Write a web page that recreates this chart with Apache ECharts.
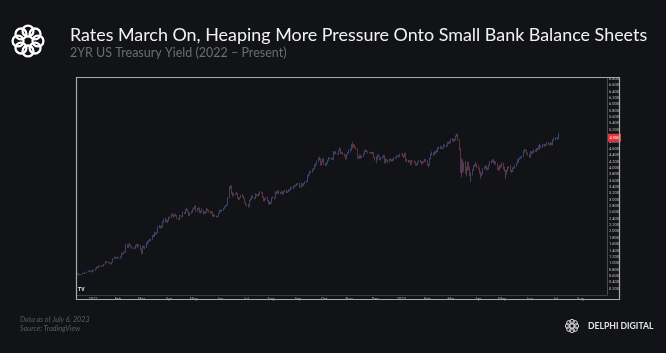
<!DOCTYPE html>
<html>
<head>
<meta charset="utf-8">
<script src="https://cdn.jsdelivr.net/npm/echarts@6/dist/echarts.min.js"></script>
<style>
html,body{margin:0;padding:0;background:#121316;}
#c{width:666px;height:353px;}
</style>
</head>
<body>
<div id="c"></div>
<script>
// ---- Data: 2YR US Treasury yield, daily (weekdays) 2021-12-15 .. 2023-07-06 ----
const firstDay = '2021-12-15';
const axisEndDay = '2023-08-31';
const monthNames = ['Jan','Feb','Mar','Apr','May','Jun','Jul','Aug','Sep','Oct','Nov','Dec'];
const yTickStep = 0.2;

const closeV = [
// Dec 2021
0.67,0.64,0.64,0.65,0.68,0.67,0.70,0.70,0.73,0.76,0.76,0.73,0.73,
// Jan 2022
0.78,0.77,0.83,0.88,0.87,0.90,0.90,0.92,0.91,0.97,0.97,1.04,1.04,1.02,1.01,0.99,1.03,1.15,1.19,1.17,1.18,
// Feb
1.18,1.15,1.19,1.31,1.29,1.35,1.34,1.58,1.50,1.58,1.58,1.52,1.47,1.47,1.47,1.56,1.58,1.57,1.57,1.44,
// Mar
1.30,1.50,1.52,1.50,1.62,1.68,1.71,1.72,1.75,1.87,1.85,1.94,1.94,1.97,2.14,2.17,2.12,2.14,2.30,2.33,2.35,2.31,2.33,
// Apr
2.44,2.43,2.54,2.50,2.47,2.53,2.51,2.40,2.37,2.50,2.50,2.46,2.60,2.56,2.68,2.72,2.61,2.50,2.58,2.61,2.70,
// May
2.73,2.78,2.64,2.71,2.73,2.61,2.63,2.66,2.57,2.61,2.59,2.71,2.67,2.63,2.59,2.62,2.49,2.50,2.48,2.47,2.47,2.56,
// Jun
2.66,2.64,2.66,2.73,2.79,2.81,2.83,3.06,3.40,3.43,3.20,3.18,3.18,3.18,3.20,3.05,3.01,3.06,3.13,3.10,3.04,2.92,
// Jul
2.83,2.83,2.79,2.98,3.03,3.12,3.06,3.05,3.15,3.14,3.13,3.16,3.24,3.23,3.09,2.97,3.02,3.04,2.98,2.87,2.88,
// Aug
2.90,3.07,3.07,3.05,3.24,3.21,3.27,3.20,3.22,3.25,3.18,3.25,3.29,3.23,3.25,3.30,3.30,3.39,3.37,3.40,3.45,3.45,3.49,
// Sep
3.51,3.40,3.40,3.50,3.45,3.50,3.56,3.57,3.75,3.79,3.87,3.87,3.95,3.97,4.05,4.12,4.20,4.29,4.28,4.10,4.19,4.28,
// Oct
4.10,4.10,4.15,4.24,4.30,4.30,4.30,4.29,4.47,4.50,4.45,4.44,4.55,4.60,4.48,4.48,4.43,4.38,4.29,4.41,4.48,
// Nov
4.54,4.56,4.71,4.66,4.72,4.64,4.60,4.32,4.32,4.39,4.35,4.36,4.45,4.53,4.55,4.51,4.49,4.49,4.47,4.46,4.48,4.33,
// Dec
4.25,4.28,4.40,4.38,4.26,4.30,4.34,4.38,4.22,4.22,4.24,4.18,4.26,4.26,4.22,4.25,4.31,4.31,4.38,4.38,4.36,4.43,
// Jan 2023
4.43,4.37,4.36,4.45,4.24,4.19,4.22,4.21,4.12,4.22,4.22,4.18,4.08,4.12,4.18,4.23,4.20,4.14,4.19,4.20,4.26,4.21,
// Feb
4.09,4.09,4.29,4.43,4.46,4.41,4.48,4.49,4.52,4.62,4.63,4.65,4.62,4.62,4.72,4.69,4.69,4.79,4.78,4.81,
// Mar
4.89,4.89,4.86,4.89,5.01,5.06,4.90,4.60,3.98,4.24,3.91,4.14,3.85,3.92,4.17,3.95,3.77,3.77,3.94,4.06,4.09,4.11,4.06,
// Apr
3.97,3.84,3.79,3.82,3.97,4.02,4.03,3.96,3.97,4.09,4.18,4.21,4.25,4.18,4.18,4.12,3.96,3.95,4.06,4.04,
// May
4.15,3.97,3.92,3.80,3.91,4.01,4.03,3.90,3.90,3.99,4.00,4.07,4.15,4.25,4.28,4.31,4.33,4.36,4.51,4.55,4.55,4.46,4.41,
// Jun
4.34,4.50,4.46,4.50,4.55,4.52,4.60,4.58,4.69,4.69,4.65,4.72,4.72,4.70,4.72,4.79,4.76,4.74,4.78,4.72,4.88,4.90,
// Jul
4.94,4.94,4.94,4.95
];

const openV = [
0.65,0.67,0.64,0.64,0.65,0.68,0.67,0.70,0.70,0.73,0.76,0.76,0.73,
0.73,0.78,0.77,0.83,0.88,0.87,0.90,0.90,0.92,0.91,0.97,0.97,1.04,1.04,1.02,1.01,0.99,1.03,1.15,1.19,1.17,
1.18,1.18,1.15,1.19,1.31,1.29,1.35,1.34,1.58,1.50,1.58,1.58,1.52,1.47,1.47,1.47,1.56,1.58,1.57,1.57,
1.44,1.30,1.50,1.52,1.50,1.62,1.68,1.71,1.72,1.75,1.87,1.85,1.94,1.94,1.97,2.14,2.17,2.12,2.14,2.30,2.33,2.35,2.31,
2.33,2.44,2.43,2.54,2.50,2.47,2.53,2.51,2.40,2.37,2.50,2.50,2.46,2.60,2.56,2.68,2.72,2.61,2.50,2.58,2.61,
2.70,2.73,2.78,2.64,2.71,2.73,2.61,2.63,2.66,2.57,2.61,2.59,2.71,2.67,2.63,2.59,2.62,2.49,2.50,2.48,2.47,2.47,
2.56,2.66,2.64,2.66,2.73,2.79,2.81,2.83,3.06,3.40,3.43,3.20,3.18,3.18,3.18,3.20,3.05,3.01,3.06,3.13,3.10,3.04,
2.92,2.83,2.83,2.79,2.98,3.03,3.12,3.06,3.05,3.15,3.14,3.13,3.16,3.24,3.23,3.09,2.97,3.02,3.04,2.98,2.87,
2.88,2.90,3.07,3.07,3.05,3.24,3.21,3.27,3.20,3.22,3.25,3.18,3.25,3.29,3.23,3.25,3.30,3.30,3.39,3.37,3.40,3.45,3.45,
3.49,3.51,3.40,3.40,3.50,3.45,3.50,3.56,3.57,3.75,3.79,3.87,3.87,3.95,3.97,4.05,4.12,4.20,4.29,4.28,4.10,4.19,
4.28,4.10,4.10,4.15,4.24,4.30,4.30,4.30,4.29,4.47,4.50,4.45,4.44,4.55,4.60,4.48,4.48,4.43,4.38,4.29,4.41,
4.48,4.54,4.56,4.71,4.66,4.72,4.64,4.60,4.32,4.32,4.39,4.35,4.36,4.45,4.53,4.55,4.51,4.49,4.49,4.47,4.46,4.48,
4.33,4.25,4.28,4.40,4.38,4.26,4.30,4.34,4.38,4.22,4.22,4.24,4.18,4.26,4.26,4.22,4.25,4.31,4.31,4.38,4.38,4.36,
4.43,4.43,4.37,4.36,4.45,4.24,4.19,4.22,4.21,4.12,4.22,4.22,4.18,4.08,4.12,4.18,4.23,4.20,4.14,4.19,4.20,4.26,
4.21,4.09,4.09,4.29,4.43,4.46,4.41,4.48,4.49,4.52,4.62,4.63,4.65,4.62,4.62,4.72,4.69,4.69,4.79,4.78,
4.81,4.89,4.89,4.86,4.89,5.01,5.06,4.90,4.60,3.98,4.24,3.91,4.14,3.85,3.92,4.17,3.95,3.77,3.77,3.94,4.06,4.09,4.11,
4.06,3.97,3.84,3.79,3.82,3.97,4.02,4.03,3.96,3.97,4.09,4.18,4.21,4.25,4.18,4.18,4.12,3.96,3.95,4.06,
4.04,4.15,3.97,3.92,3.80,3.91,4.01,4.03,3.90,3.90,3.99,4.00,4.07,4.15,4.25,4.28,4.31,4.33,4.36,4.51,4.55,4.55,4.46,
4.41,4.34,4.50,4.46,4.50,4.55,4.52,4.60,4.58,4.69,4.69,4.65,4.72,4.72,4.70,4.72,4.79,4.76,4.74,4.78,4.72,4.88,
4.90,4.94,4.94,4.94
];

const highV = [
0.69,0.68,0.66,0.66,0.69,0.69,0.71,0.71,0.74,0.77,0.78,0.77,0.75,
0.79,0.80,0.84,0.89,0.90,0.92,0.93,0.94,0.93,0.98,0.98,1.06,1.07,1.05,1.04,1.02,1.04,1.16,1.21,1.21,1.20,
1.20,1.19,1.21,1.33,1.32,1.37,1.37,1.61,1.60,1.60,1.64,1.59,1.54,1.50,1.49,1.58,1.60,1.61,1.59,1.58,
1.46,1.53,1.56,1.55,1.65,1.70,1.73,1.76,1.77,1.89,1.90,1.99,1.96,1.99,2.17,2.20,2.18,2.18,2.32,2.40,2.43,2.38,2.36,
2.46,2.47,2.56,2.58,2.52,2.55,2.56,2.52,2.42,2.52,2.51,2.50,2.63,2.61,2.70,2.75,2.71,2.63,2.60,2.64,2.72,
2.76,2.80,2.83,2.74,2.76,2.75,2.65,2.72,2.67,2.63,2.63,2.73,2.72,2.68,2.64,2.64,2.63,2.54,2.53,2.50,2.49,2.58,
2.68,2.69,2.69,2.75,2.80,2.83,2.85,3.08,3.42,3.45,3.46,3.24,3.21,3.20,3.24,3.21,3.07,3.08,3.15,3.19,3.12,3.06,
2.93,2.85,2.86,3.00,3.05,3.14,3.13,3.08,3.20,3.18,3.16,3.20,3.26,3.27,3.24,3.11,3.04,3.08,3.09,2.99,2.95,
2.92,3.08,3.10,3.09,3.26,3.26,3.29,3.30,3.24,3.27,3.26,3.27,3.31,3.31,3.27,3.32,3.33,3.41,3.40,3.43,3.47,3.47,3.51,
3.53,3.54,3.42,3.53,3.52,3.52,3.58,3.60,3.79,3.81,3.91,3.90,3.97,3.99,4.11,4.14,4.23,4.33,4.36,4.30,4.21,4.31,
4.30,4.15,4.18,4.26,4.34,4.33,4.33,4.32,4.53,4.52,4.52,4.47,4.57,4.64,4.62,4.51,4.49,4.45,4.40,4.43,4.50,
4.57,4.61,4.75,4.82,4.74,4.74,4.66,4.62,4.36,4.42,4.42,4.38,4.47,4.56,4.58,4.56,4.53,4.50,4.51,4.50,4.50,4.50,
4.35,4.37,4.42,4.43,4.39,4.33,4.37,4.41,4.40,4.30,4.27,4.27,4.29,4.29,4.27,4.28,4.34,4.33,4.40,4.40,4.40,4.45,
4.44,4.48,4.41,4.47,4.48,4.28,4.25,4.24,4.24,4.25,4.23,4.24,4.20,4.14,4.19,4.25,4.25,4.22,4.21,4.22,4.28,4.28,
4.24,4.13,4.31,4.45,4.52,4.49,4.52,4.53,4.57,4.65,4.67,4.70,4.67,4.64,4.74,4.74,4.72,4.82,4.83,4.83,
4.92,4.94,4.92,4.91,5.02,5.08,5.07,4.91,4.62,4.30,4.27,4.18,4.22,4.02,4.19,4.18,4.04,3.86,3.96,4.08,4.12,4.18,4.14,
4.08,4.01,3.89,3.85,3.99,4.05,4.07,4.08,4.01,4.11,4.21,4.23,4.27,4.27,4.22,4.20,4.14,4.03,4.09,4.10,
4.17,4.16,4.04,3.93,3.95,4.03,4.05,4.08,3.94,4.01,4.03,4.09,4.17,4.27,4.30,4.33,4.36,4.38,4.54,4.60,4.57,4.57,4.48,
4.43,4.53,4.52,4.53,4.59,4.58,4.62,4.62,4.71,4.76,4.72,4.74,4.74,4.75,4.75,4.81,4.81,4.78,4.81,4.80,4.90,4.95,
4.96,4.95,4.97,5.11
];

const lowV = [
0.64,0.63,0.62,0.62,0.64,0.66,0.66,0.69,0.69,0.72,0.74,0.72,0.71,
0.72,0.75,0.76,0.81,0.85,0.86,0.88,0.88,0.89,0.90,0.96,0.96,1.01,1.00,0.99,0.95,0.98,1.02,1.13,1.15,1.15,
1.15,1.13,1.14,1.18,1.27,1.28,1.32,1.33,1.48,1.48,1.55,1.50,1.45,1.44,1.45,1.46,1.53,1.47,1.53,1.41,
1.28,1.29,1.47,1.44,1.48,1.58,1.65,1.68,1.70,1.74,1.82,1.83,1.89,1.91,1.95,2.11,2.09,2.10,2.13,2.27,2.28,2.29,2.27,
2.31,2.41,2.41,2.48,2.45,2.45,2.49,2.39,2.35,2.36,2.48,2.44,2.45,2.54,2.55,2.65,2.60,2.48,2.49,2.56,2.59,
2.69,2.71,2.62,2.62,2.68,2.58,2.56,2.60,2.53,2.55,2.56,2.58,2.64,2.59,2.56,2.57,2.47,2.46,2.46,2.44,2.45,2.46,
2.55,2.62,2.62,2.65,2.71,2.76,2.79,2.82,3.05,3.34,3.17,3.09,3.12,3.15,3.16,3.03,2.98,3.00,3.05,3.08,3.02,2.90,
2.81,2.81,2.75,2.78,2.96,3.00,3.04,3.01,3.03,3.11,3.10,3.11,3.14,3.20,3.07,2.95,2.95,3.00,2.95,2.85,2.84,
2.85,2.88,3.03,3.01,3.04,3.18,3.19,3.16,3.17,3.19,3.16,3.16,3.23,3.21,3.21,3.23,3.27,3.29,3.34,3.33,3.38,3.42,3.43,
3.46,3.38,3.38,3.39,3.42,3.43,3.48,3.53,3.55,3.72,3.77,3.84,3.85,3.92,3.95,4.03,4.10,4.18,4.24,4.07,4.08,4.17,
4.08,4.06,4.07,4.13,4.22,4.27,4.26,4.25,4.26,4.44,4.42,4.41,4.42,4.53,4.44,4.44,4.40,4.35,4.26,4.27,4.39,
4.46,4.49,4.55,4.62,4.64,4.62,4.57,4.29,4.29,4.29,4.29,4.31,4.34,4.43,4.50,4.49,4.46,4.47,4.45,4.43,4.44,4.31,
4.23,4.15,4.26,4.36,4.24,4.24,4.28,4.32,4.14,4.15,4.20,4.15,4.17,4.22,4.20,4.20,4.23,4.29,4.29,4.35,4.33,4.34,
4.42,4.35,4.31,4.34,4.21,4.17,4.16,4.18,4.08,4.10,4.21,4.15,4.07,4.06,4.10,4.16,4.17,4.10,4.12,4.16,4.18,4.19,
4.07,4.02,4.08,4.27,4.40,4.38,4.40,4.45,4.47,4.50,4.59,4.60,4.59,4.60,4.61,4.66,4.65,4.68,4.75,4.75,
4.79,4.85,4.81,4.83,4.87,4.98,4.86,4.56,3.84,3.71,3.83,3.88,3.81,3.73,3.90,3.93,3.75,3.55,3.76,3.91,4.03,4.06,4.00,
3.95,3.82,3.66,3.74,3.80,3.95,3.98,3.91,3.93,3.95,4.07,4.14,4.18,4.15,4.12,4.09,3.93,3.90,3.93,3.98,
4.02,3.95,3.88,3.65,3.79,3.89,3.98,3.88,3.85,3.87,3.96,3.98,4.05,4.13,4.17,4.26,4.29,4.30,4.34,4.48,4.53,4.44,4.38,
4.31,4.33,4.44,4.44,4.47,4.50,4.49,4.55,4.57,4.58,4.62,4.63,4.70,4.66,4.68,4.71,4.73,4.71,4.72,4.70,4.71,4.85,
4.87,4.93,4.88,4.91
];

// ---- Category axis: weekdays ----
function weekdays(a, b) {
  const out = [];
  let d = new Date(a + 'T00:00:00Z');
  const e = new Date(b + 'T00:00:00Z');
  while (d <= e) {
    const w = d.getUTCDay();
    if (w > 0 && w < 6) out.push(d.toISOString().slice(0, 10));
    d = new Date(d.getTime() + 86400000);
  }
  return out;
}
const dates = weekdays(firstDay, axisEndDay);
const candles = closeV.map((c, i) => [openV[i], c, lowV[i], highV[i]]);

function isMonthStart(i) {
  if (i === 0) return false;
  return dates[i].slice(5, 7) !== dates[i - 1].slice(5, 7);
}

const chart = echarts.init(document.getElementById('c'), null, { renderer: 'canvas' });

function logo(cx, cy, s, color) {
  const items = [];
  const n = 8;
  for (let k = 0; k < n; k++) {
    const a = (k / n) * Math.PI * 2;
    items.push({
      type: 'circle',
      shape: { cx: cx + Math.cos(a) * 9.5 * s, cy: cy + Math.sin(a) * 9.5 * s, r: 5.2 * s },
      style: { fill: 'none', stroke: color, lineWidth: 2.2 * s }
    });
  }
  return items;
}

const option = {
  backgroundColor: '#121316',
  animation: false,
  grid: { left: 77, right: 59, top: 78, bottom: 58 },
  xAxis: {
    type: 'category',
    data: dates,
    boundaryGap: true,
    axisLine: { show: true, lineStyle: { color: '#3c3d42', width: 1 } },
    axisTick: { show: false },
    splitLine: { show: false },
    axisLabel: {
      interval: (i) => isMonthStart(i),
      formatter: (v) => {
        const m = parseInt(v.slice(5, 7), 10) - 1;
        return m === 0 ? v.slice(0, 4) : monthNames[m];
      },
      fontSize: 4,
      color: '#b8b8b8',
      margin: 1.5,
      fontFamily: 'Roboto'
    }
  },
  yAxis: {
    type: 'value',
    position: 'right',
    min: 0,
    max: 6.83,
    interval: yTickStep,
    axisLine: { show: true, lineStyle: { color: '#4a4b50', width: 1 } },
    axisTick: { show: false },
    splitLine: { show: false },
    axisLabel: {
      showMinLabel: false,
      showMaxLabel: false,
      formatter: (v) => v.toFixed(3),
      fontSize: 4,
      color: '#c4c4c4',
      margin: 2,
      fontFamily: 'Roboto'
    }
  },
  series: [{
    type: 'candlestick',
    data: candles,
    barWidth: '60%',
    itemStyle: {
      color: '#4c66a9',
      color0: '#a3434b',
      borderColor: '#4c66a9',
      borderColor0: '#a3434b',
      borderWidth: 0.6
    },
    markLine: {
      silent: true,
      symbol: 'none',
      lineStyle: { color: 'rgba(0,0,0,0)', width: 0 },
      label: {
        show: true,
        position: 'end',
        distance: 1,
        formatter: (p) => Number(p.value).toFixed(3),
        backgroundColor: '#e5333a',
        color: '#ffffff',
        fontSize: 4,
        padding: [2, 1.5],
        fontFamily: 'Roboto'
      },
      data: [{ yAxis: closeV[closeV.length - 1] }]
    }
  }],
  graphic: [
    // chart frame
    { type: 'rect', shape: { x: 76.5, y: 77.5, width: 543, height: 222 },
      style: { fill: 'none', stroke: '#a9a9ab', lineWidth: 1.2 }, z: 10 },
    // TV mark
    { type: 'text', style: { x: 78, y: 290, text: 'TV', fontSize: 5, fontWeight: 'bold', fill: '#e8e8e8',
      textVerticalAlign: 'middle', fontFamily: 'Roboto' }, z: 10 },
    // title
    { type: 'text', style: { x: 70, y: 35, text: 'Rates March On, Heaping More Pressure Onto Small Bank Balance Sheets',
      fontSize: 17.9, fill: '#f2f2f2', fontFamily: 'Lato', textVerticalAlign: 'middle' } },
    { type: 'text', style: { x: 70, y: 53, text: '2YR US Treasury Yield (2022 \u2013 Present)',
      fontSize: 12.5, fill: '#6d6d6f', fontFamily: 'Lato', textVerticalAlign: 'middle' } },
    // footer
    { type: 'text', style: { x: 20, y: 320, text: 'Data as of July 6, 2023', fontSize: 7.2, fontStyle: 'italic',
      fill: '#5c5c5e', fontFamily: 'Lato', textVerticalAlign: 'middle' } },
    { type: 'text', style: { x: 20, y: 329, text: 'Source: TradingView', fontSize: 7.2, fontStyle: 'italic',
      fill: '#5c5c5e', fontFamily: 'Lato', textVerticalAlign: 'middle' } },
    { type: 'text', style: { x: 588, y: 326, text: 'DELPHI DIGITAL', fontSize: 8.6, fontWeight: 'bold',
      fill: '#e2e2e2', fontFamily: 'Lato', textVerticalAlign: 'middle' } },
    ...logo(28, 41, 1.05, '#ffffff'),
    ...logo(572, 326, 0.45, '#e2e2e2')
  ]
};
chart.setOption(option);
</script>
</body>
</html>
